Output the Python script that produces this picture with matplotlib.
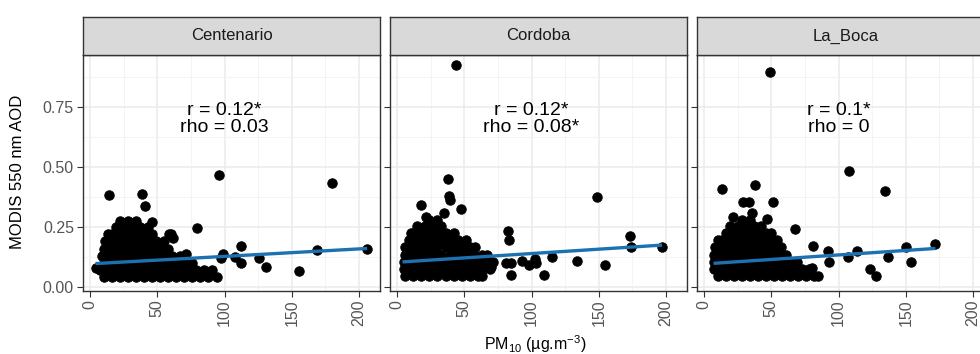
import matplotlib

matplotlib.use("Agg")
import matplotlib.pyplot as plt
from matplotlib.ticker import MultipleLocator

plt.rcParams["font.family"] = ["Liberation Sans", "DejaVu Sans"]
plt.rcParams["mathtext.default"] = "regular"

# --- data ------------------------------------------------------------------
stations = ["Centenario", "Cordoba", "La_Boca"]
stats_text = ["r = 0.12*\nrho = 0.03", "r = 0.12*\nrho = 0.08*", "r = 0.1*\nrho = 0"]

# dense cluster: one list of PM10 values per AOD row
cent_rows_y = [0.04, 0.07, 0.10, 0.13, 0.16, 0.19, 0.22, 0.25, 0.275]
cent_rows_x = [
    [10, 16, 22, 28, 34, 40, 46, 52, 58, 64, 70, 76, 82, 88, 94],
    [7, 13, 19, 25, 31, 37, 43, 49, 55, 61, 67, 73, 79, 85, 91],
    [10, 16, 22, 28, 34, 40, 46, 52, 58, 64, 70, 76],
    [9, 13, 19, 25, 31, 37, 43, 49, 55, 61, 67],
    [10, 16, 22, 28, 34, 40, 46, 52, 58],
    [11, 13, 19, 25, 31, 37, 43, 49, 55],
    [13, 16, 22, 28, 34, 40, 46, 59],
    [19, 25, 31, 37, 43],
    [22, 28, 34],
]
cent_extra = [
    (95.7, 0.467), (180, 0.435), (14.4, 0.383), (38.6, 0.388), (40.5, 0.338),
    (79.6, 0.245), (112, 0.171), (112.4, 0.10), (125.6, 0.122), (131, 0.082),
    (155, 0.068), (169, 0.154), (206, 0.157), (99, 0.137), (97.5, 0.12),
    (108, 0.126), (4, 0.078), (62, 0.203), (60, 0.22), (46, 0.272), (71, 0.137),
]

cord_rows_y = [0.045, 0.075, 0.105, 0.135, 0.165, 0.195, 0.225, 0.255, 0.28]
cord_rows_x = [
    [6, 12, 18, 24, 30, 36, 42, 48, 54, 60, 63],
    [5, 9, 15, 21, 27, 33, 39, 45, 51, 57, 63, 69],
    [5, 12, 18, 24, 30, 36, 42, 48, 54, 60, 66, 71],
    [6, 9, 15, 21, 27, 33, 39, 45, 51, 57, 63, 67],
    [6, 12, 18, 24, 30, 36, 42, 48, 54, 58],
    [9, 15, 21, 27, 33, 39, 45, 51],
    [10, 12, 18, 24, 30, 36, 42],
    [15, 21, 27, 33],
    [24, 30],
]
cord_extra = [
    (44.1, 0.925), (37.6, 0.45), (38.6, 0.379), (39.4, 0.362), (47.4, 0.325),
    (17.5, 0.342), (34.9, 0.307), (21.3, 0.29), (82.2, 0.235), (83.4, 0.196),
    (149, 0.376), (173.2, 0.214), (173.7, 0.165), (196.9, 0.165), (154.5, 0.09),
    (134, 0.108), (115.4, 0.126), (109.6, 0.05), (102.2, 0.116), (103.4, 0.099),
    (98.4, 0.092), (93, 0.11), (84.7, 0.05), (81, 0.099), (84.7, 0.099),
    (69.8, 0.085), (62.3, 0.064),
]

boca_rows_y = [0.045, 0.075, 0.105, 0.135, 0.165, 0.195, 0.225, 0.255, 0.28]
boca_rows_x = [
    [10, 16, 22, 28, 34, 40, 46, 52, 58, 64, 70, 76, 82],
    [7, 13, 19, 25, 31, 37, 43, 49, 55, 61, 67, 73, 78],
    [7, 10, 16, 22, 28, 34, 40, 46, 52, 58, 64, 69],
    [7, 13, 19, 25, 31, 37, 43, 49, 55, 61],
    [8, 10, 16, 22, 28, 34, 40, 46, 52, 57],
    [10, 13, 19, 25, 31, 37, 43, 49, 54],
    [16, 22, 28, 34, 40, 46, 50],
    [19, 25, 31, 37, 42],
    [28, 34],
]
boca_extra = [
    (49.3, 0.897), (107.6, 0.485), (134.4, 0.40), (13.1, 0.407), (37.9, 0.425),
    (29.2, 0.356), (33.6, 0.356), (51, 0.353), (47, 0.283), (67.6, 0.242),
    (80.7, 0.172), (92.4, 0.15), (93.1, 0.105), (107.2, 0.126), (113.4, 0.151),
    (123.3, 0.074), (128.2, 0.046), (136.9, 0.126), (150.5, 0.165), (154.2, 0.103),
    (172, 0.179), (85, 0.046), (80, 0.078), (21.8, 0.293), (35.4, 0.307),
]

# linear fit end points (PM10, AOD)
cent_fit = ([4, 206], [0.098, 0.161])
cord_fit = ([4, 197], [0.105, 0.175])
boca_fit = ([7, 172], [0.099, 0.161])

x_ticks = [0, 50, 100, 150, 200]
y_ticks = [0.00, 0.25, 0.50, 0.75]
y_tick_labels = ["0.00", "0.25", "0.50", "0.75"]


def collect(rows_y, rows_x, extra):
    xs, ys = [], []
    for y, row in zip(rows_y, rows_x):
        xs.extend(row)
        ys.extend([y] * len(row))
    for x, y in extra:
        xs.append(x)
        ys.append(y)
    return xs, ys


panels = [
    collect(cent_rows_y, cent_rows_x, cent_extra),
    collect(cord_rows_y, cord_rows_x, cord_extra),
    collect(boca_rows_y, boca_rows_x, boca_extra),
]
fits = [cent_fit, cord_fit, boca_fit]

W, H = 980, 354
fig = plt.figure(figsize=(W / 100, H / 100), dpi=100)

panel_left = [83, 390, 697]
panel_w = 297
panel_top, panel_bottom = 55, 290.6
strip_top = 17

for i, name in enumerate(stations):
    left = panel_left[i] / W
    ax = fig.add_axes([left, 1 - panel_bottom / H, panel_w / W, (panel_bottom - panel_top) / H])
    xs, ys = panels[i]
    ax.scatter(xs, ys, s=46, color="black", edgecolors="black", linewidths=0.7, zorder=3)
    fx, fy = fits[i]
    ax.plot(fx, fy, color="#1C72B0", linewidth=2.4, zorder=4, solid_capstyle="butt")
    ax.text(100, 0.70, stats_text[i], ha="center", va="center", fontsize=14,
            linespacing=1.0, zorder=5)

    ax.set_xlim(-5.3, 215.6)
    ax.set_ylim(-0.0146, 0.967)
    ax.set_xticks(x_ticks)
    ax.set_xticklabels([str(t) for t in x_ticks], rotation=90, va="top", ha="center")
    ax.xaxis.set_minor_locator(MultipleLocator(25))
    ax.yaxis.set_minor_locator(MultipleLocator(0.125))
    ax.set_yticks(y_ticks)
    if i == 0:
        ax.set_yticklabels(y_tick_labels)
    else:
        ax.tick_params(axis="y", labelleft=False)
    ax.tick_params(which="major", length=4, width=0.8, color="#333333",
                   labelcolor="#555555", labelsize=11.5, pad=2.5)
    ax.tick_params(which="minor", length=0)
    ax.grid(which="major", color="#EBEBEB", linewidth=1.1)
    ax.grid(which="minor", color="#F2F2F2", linewidth=0.6)
    ax.set_axisbelow(True)
    for sp in ax.spines.values():
        sp.set_color("#333333")
        sp.set_linewidth(1.0)

    sax = fig.add_axes([left, 1 - panel_top / H, panel_w / W, (panel_top - strip_top) / H])
    sax.set_facecolor("#D9D9D9")
    sax.set_xticks([])
    sax.set_yticks([])
    for sp in sax.spines.values():
        sp.set_color("#333333")
        sp.set_linewidth(1.0)
    sax.text(0.5, 0.5, name, ha="center", va="center", fontsize=12,
             color="#1A1A1A", transform=sax.transAxes)

fig.text(535 / W, 1 - 344 / H, "PM$_{10}$ (µg.m$^{-3}$)", ha="center", va="center", fontsize=11.5)
fig.text(17 / W, 1 - 172 / H, "MODIS 550 nm AOD", ha="center", va="center",
         rotation=90, fontsize=12)

fig.savefig("out.png", dpi=100)
